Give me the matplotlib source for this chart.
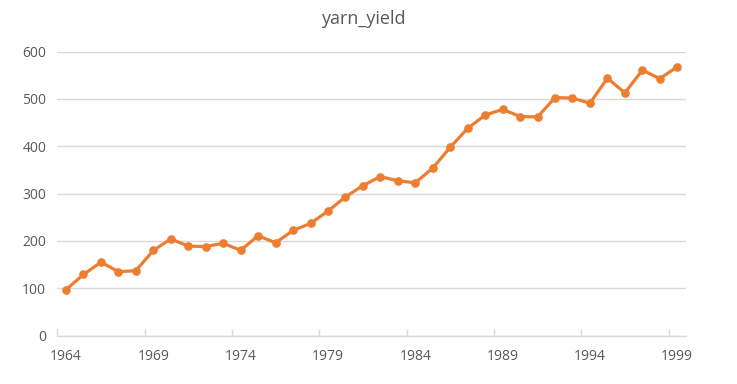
import matplotlib.pyplot as plt
import numpy as np

years = list(range(1964, 2000))
yarn_yield = [97, 129, 155, 135, 137, 180, 204, 189, 188, 195,
              180, 211, 196, 222, 237, 263, 293, 317, 336, 327,
              323, 354, 398, 438, 466, 478, 463, 462, 503, 502,
              491, 544, 513, 561, 543, 568]
label_years = [1964, 1969, 1974, 1979, 1984, 1989, 1994, 1999]

grid_col = "#D9D9D9"
text_col = "#595959"
orange = "#ED7D31"

plt.rcParams['font.family'] = ['Open Sans', 'DejaVu Sans']

fig = plt.figure(figsize=(7.37, 3.84), dpi=100)
ax = fig.add_axes([57.3 / 737, 1 - 335.5 / 384, (686 - 57.3) / 737, (335.5 - 51.7) / 384])

x = np.arange(len(years))
ax.plot(x, yarn_yield, color=orange, linewidth=2.3, marker='o', markersize=5.2,
        solid_capstyle='round', zorder=3)

ax.set_xlim(-0.5, len(years) - 0.5)
ax.set_ylim(0, 600)
ax.set_yticks(range(0, 601, 100))
ax.yaxis.grid(True, color=grid_col, linewidth=1)
ax.set_axisbelow(True)

ax.set_xticks([years.index(y) for y in label_years])
ax.set_xticklabels([str(y) for y in label_years])
ax.set_xticks(np.arange(-0.5, len(years) - 1, 5), minor=True)
ax.tick_params(axis='x', which='major', length=0, pad=10, labelsize=10, labelcolor=text_col)
ax.tick_params(axis='x', which='minor', length=5, direction='in', color=grid_col, width=1)
ax.tick_params(axis='y', length=0, pad=8, labelsize=10, labelcolor=text_col)

for s in ['top', 'right', 'left']:
    ax.spines[s].set_visible(False)
ax.spines['bottom'].set_color(grid_col)
ax.spines['bottom'].set_linewidth(1)

fig.text(363 / 737, 1 - 19 / 384, "yarn_yield", ha='center', va='center',
         fontsize=13, color=text_col)

fig.savefig("out.png", dpi=100)
